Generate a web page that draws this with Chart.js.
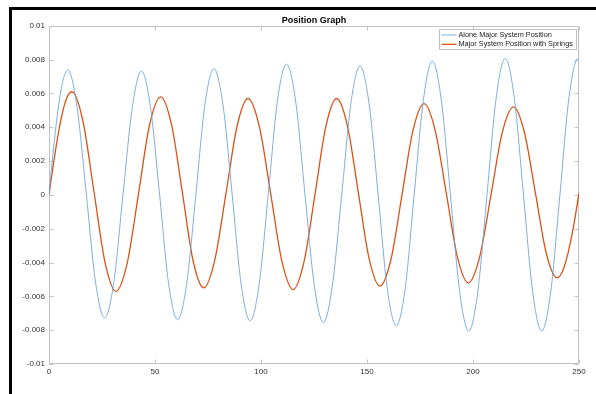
<!DOCTYPE html>
<html>
<head>
<meta charset="utf-8">
<script src="https://cdn.jsdelivr.net/npm/chart.js@4/dist/chart.umd.min.js"></script>
<style>
  html, body { margin: 0; padding: 0; background: #fff; }
  #frame {
    position: absolute; left: 9px; top: 7px;
    width: 587px; height: 387px;
    border-top: 3px solid #000; border-left: 3px solid #000;
    box-sizing: border-box; background: #fff;
  }
  #wrap { position: absolute; left: 0; top: 0; width: 584px; height: 384px; }
</style>
</head>
<body>
<div id="frame"><div id="wrap"><canvas id="chart"></canvas></div></div>
<script>
"use strict";

const title = 'Position Graph';
const seriesNames = ['Alone Major System Position', 'Major System Position with Springs'];

// time values and positions
const blueX = [0, 2.2, 4.45, 6.7, 8.9, 13.2, 17.6, 21.9, 26.25, 30.6, 34.9, 39.3, 43.6, 47.9, 52.2, 56.4,
  60.7, 65.0, 69.3, 73.5, 77.8, 82.1, 86.4, 90.6, 94.9, 99.2, 103.5, 107.7, 112.0, 116.4, 120.7, 125.1,
  129.4, 133.7, 138.1, 142.4, 146.7, 151.0, 155.3, 159.5, 163.8, 168.1, 172.3, 176.6, 180.8, 185.1, 189.4,
  193.7, 198.0, 202.3, 206.6, 210.9, 215.2, 219.5, 223.8, 228.1, 232.4, 236.7, 241.0, 245.2, 249.5, 250];
const blueY = [0, 0.00283, 0.00522, 0.00682, 0.00738, 0.00523, 0.00005, -0.00513, -0.00728, -0.00514, 0.00002,
  0.00518, 0.00732, 0.00517, -0.00003, -0.00523, -0.00738, -0.0052, 0.00005, 0.0053, 0.00747, 0.00529, 0.00002,
  -0.00526, -0.00744, -0.00522, 0.00015, 0.00551, 0.00773, 0.00549, 0.00009, -0.00531, -0.00755, -0.00533,
  0.00004, 0.00541, 0.00763, 0.00538, -0.00005, -0.00548, -0.00773, -0.00544, 0.00009, 0.00562, 0.00791,
  0.00557, -0.00007, -0.00571, -0.00805, -0.00569, 0.00001, 0.00571, 0.00807, 0.00571, 0.00001, -0.00569,
  -0.00805, -0.00569, 0, 0.00569, 0.00805, 0.00805];

const redX = [0, 2.7, 5.4, 8.1, 10.8, 16.0, 21.2, 26.4, 31.6, 36.9, 42.2, 47.4, 52.7, 57.8, 62.9, 67.9, 73.0,
  78.2, 83.5, 88.7, 93.9, 99.2, 104.6, 109.9, 115.2, 120.3, 125.5, 130.6, 135.7, 140.8, 145.9, 151.0, 156.1,
  161.3, 166.5, 171.7, 176.9, 182.1, 187.4, 192.6, 197.8, 203.1, 208.5, 213.8, 219.1, 224.2, 229.4, 234.5,
  239.6, 242.2, 244.8, 247.4, 250];
const redY = [0, 0.00234, 0.00431, 0.00564, 0.0061, 0.00437, 0.0002, -0.00397, -0.0057, -0.00402, 0.00005,
  0.00412, 0.0058, 0.00415, 0.00015, -0.00385, -0.0055, -0.00386, 0.0001, 0.00406, 0.0057, 0.00405, 0.00005,
  -0.00395, -0.0056, -0.00395, 0.00005, 0.00405, 0.0057, 0.00407, 0.00015, -0.00377, -0.0054, -0.00382, 0,
  0.00382, 0.0054, 0.00385, 0.0001, -0.00365, -0.0052, -0.00368, 0, 0.00368, 0.0052, 0.00372, 0.00015,
  -0.00342, -0.0049, -0.00453, -0.00346, -0.00188, 0.0001];

const xTicks = [0, 50, 100, 150, 200, 250];
const xTickLabels = ['0', '50', '100', '150', '200', '250'];
const yTicks = [-0.01, -0.008, -0.006, -0.004, -0.002, 0, 0.002, 0.004, 0.006, 0.008, 0.01];
const yTickLabels = ['-0.01', '-0.008', '-0.006', '-0.004', '-0.002', '0', '0.002', '0.004', '0.006', '0.008', '0.01'];

const toPoints = (xs, ys) => xs.map((x, i) => ({ x: x, y: ys[i] }));

const FONT = '"Liberation Sans", Arial, Helvetica, sans-serif';
const AXIS_COLOR = '#c2c2c2';

// MATLAB style box with inward ticks on all four sides
const boxPlugin = {
  id: 'box',
  beforeDatasetsDraw(chart) {
    const { ctx, chartArea: a, scales } = chart;
    const L = Math.round(a.left) + 0.5, R = Math.round(a.right) - 0.5;
    const T = Math.round(a.top) + 0.5, B = Math.round(a.bottom) - 0.5;
    const len = 4;
    ctx.save();
    ctx.strokeStyle = AXIS_COLOR;
    ctx.lineWidth = 1;
    ctx.beginPath();
    ctx.rect(L, T, R - L, B - T);
    for (const v of xTicks) {
      const px = Math.round(scales.x.getPixelForValue(v)) + 0.5;
      ctx.moveTo(px, B); ctx.lineTo(px, B - len);
      ctx.moveTo(px, T); ctx.lineTo(px, T + len);
    }
    for (const v of yTicks) {
      const py = Math.round(scales.y.getPixelForValue(v)) + 0.5;
      ctx.moveTo(L, py); ctx.lineTo(L + len, py);
      ctx.moveTo(R, py); ctx.lineTo(R - len, py);
    }
    ctx.stroke();
    ctx.restore();
  }
};

// legend box in the upper right corner of the axes
const legendPlugin = {
  id: 'boxLegend',
  afterDraw(chart) {
    const { ctx, chartArea: a } = chart;
    const w = 137, h = 20;
    const left = Math.round(a.right - 3 - w) + 0.5;
    const top = Math.round(a.top + 3) + 0.5;
    ctx.save();
    ctx.fillStyle = '#fff';
    ctx.fillRect(left, top, w, h);
    ctx.strokeStyle = AXIS_COLOR;
    ctx.lineWidth = 1;
    ctx.strokeRect(left, top, w, h);
    ctx.font = '7.3px ' + FONT;
    ctx.textBaseline = 'middle';
    chart.data.datasets.forEach((ds, i) => {
      const cy = top + 5.5 + i * 9.3;
      ctx.strokeStyle = ds.borderColor;
      ctx.lineWidth = ds.borderWidth;
      ctx.beginPath();
      ctx.moveTo(left + 2, cy); ctx.lineTo(left + 17, cy);
      ctx.stroke();
      ctx.fillStyle = '#222';
      ctx.fillText(ds.label, left + 19, cy);
    });
    ctx.restore();
  }
};

new Chart(document.getElementById('chart'), {
  type: 'line',
  data: {
    datasets: [
      {
        label: seriesNames[0],
        data: toPoints(blueX, blueY),
        borderColor: 'rgb(110, 165, 220)',
        borderWidth: 0.9
      },
      {
        label: seriesNames[1],
        data: toPoints(redX, redY),
        borderColor: '#D95319',
        borderWidth: 1.3
      }
    ]
  },
  options: {
    responsive: true,
    maintainAspectRatio: false,
    animation: false,
    events: [],
    cubicInterpolationMode: 'monotone',
    pointRadius: 0,
    layout: { padding: { left: 0, right: 17, top: 0, bottom: 0 } },
    plugins: {
      legend: { display: false },
      tooltip: { enabled: false },
      title: {
        display: true,
        text: title,
        fullSize: false,
        color: '#000',
        font: { family: FONT, size: 9, weight: 'bold' },
        padding: { top: 5, bottom: 0 }
      }
    },
    scales: {
      x: {
        type: 'linear',
        min: 0,
        max: 250,
        afterBuildTicks: (s) => { s.ticks = xTicks.map(v => ({ value: v })); },
        afterFit: (s) => { s.height = 30; },
        grid: { display: false, drawTicks: false },
        border: { display: false },
        ticks: {
          padding: 3,
          maxRotation: 0,
          color: '#333',
          font: { family: FONT, size: 8 },
          callback: (v) => xTickLabels[xTicks.indexOf(v)]
        }
      },
      y: {
        type: 'linear',
        min: -0.01,
        max: 0.01,
        afterBuildTicks: (s) => { s.ticks = yTicks.map(v => ({ value: v })); },
        afterFit: (s) => { s.width = 37; },
        grid: { display: false, drawTicks: false },
        border: { display: false },
        ticks: {
          padding: 4,
          color: '#333',
          font: { family: FONT, size: 8 },
          callback: (v) => yTickLabels[yTicks.indexOf(v)]
        }
      }
    }
  },
  plugins: [boxPlugin, legendPlugin]
});
</script>
</body>
</html>
